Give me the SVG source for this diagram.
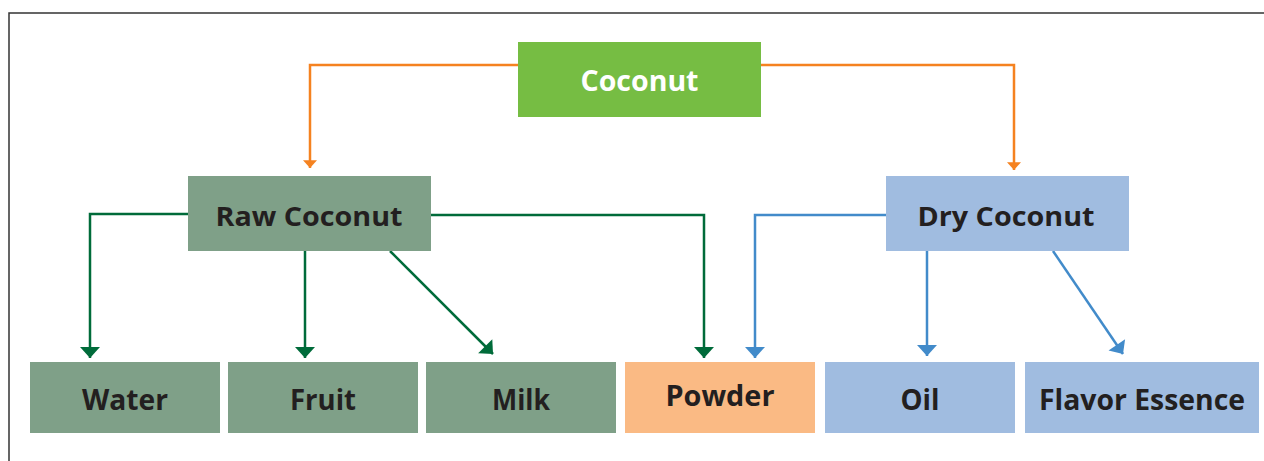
<svg xmlns="http://www.w3.org/2000/svg" width="1264" height="461" viewBox="0 0 1264 461">
  <style>
    .lbl { font-family: "Open Sans", "Liberation Sans", sans-serif; font-weight: 700; text-anchor: middle; fill: #231F20; }
    .top { fill: #FFFFFF; }
    .raw { fill: #7FA088; }
    .dry { fill: #A0BCE0; }
    .pow { fill: #FABA84; }
    .cg { fill: none; stroke-width: 2.5; }
    .orange { stroke: #F58220; }
    .green { stroke: #006B3A; }
    .blue { stroke: #428BCA; }
  </style>
  <defs>
    <marker id="arrO" markerUnits="userSpaceOnUse" markerWidth="22" markerHeight="14" refX="20" refY="10" orient="auto" viewBox="0 0 22 20">
      <path d="M9,0 L20,10 L9,20 Z" fill="#F58220"/>
    </marker>
    <marker id="arrG" markerUnits="userSpaceOnUse" markerWidth="22" markerHeight="22" refX="20" refY="10" orient="auto" viewBox="0 0 22 20">
      <path d="M9,0 L20,10 L9,20 Z" fill="#006B3A"/>
    </marker>
    <marker id="arrB" markerUnits="userSpaceOnUse" markerWidth="22" markerHeight="22" refX="20" refY="10" orient="auto" viewBox="0 0 22 20">
      <path d="M9,0 L20,10 L9,20 Z" fill="#428BCA"/>
    </marker>
  </defs>

  <!-- outer frame -->
  <path d="M9,461 V13 H1264" fill="none" stroke="#333333" stroke-width="1.5"/>

  <!-- connectors -->
  <g id="connectors">
    <path class="cg orange" d="M518,65 H310 V168" marker-end="url(#arrO)"/>
    <path class="cg orange" d="M761,65 H1014 V170" marker-end="url(#arrO)"/>

    <path class="cg green" d="M188,214 H90 V358" marker-end="url(#arrG)"/>
    <path class="cg green" d="M305,251 V358" marker-end="url(#arrG)"/>
    <path class="cg green" d="M390,251 L493,354" marker-end="url(#arrG)"/>
    <path class="cg green" d="M431,215 H704 V358" marker-end="url(#arrG)"/>

    <path class="cg blue" d="M886,215 H755 V358" marker-end="url(#arrB)"/>
    <path class="cg blue" d="M927,251 V356" marker-end="url(#arrB)"/>
    <path class="cg blue" d="M1053,251 L1123,354" marker-end="url(#arrB)"/>
  </g>

  <g id="coconut">
    <rect x="518" y="42" width="243" height="75" fill="#76BD43"/>
    <text class="lbl top" x="639.5" y="91" font-size="28" textLength="118" lengthAdjust="spacingAndGlyphs">Coconut</text>
  </g>
  <g id="raw-coconut">
    <rect class="raw" x="188" y="176" width="243" height="75"/>
    <text class="lbl" x="309" y="226" font-size="26" textLength="187" lengthAdjust="spacingAndGlyphs">Raw Coconut</text>
  </g>
  <g id="dry-coconut">
    <rect class="dry" x="886" y="176" width="243" height="75"/>
    <text class="lbl" x="1006" y="226" font-size="26" textLength="177" lengthAdjust="spacingAndGlyphs">Dry Coconut</text>
  </g>
  <g id="water">
    <rect class="raw" x="30" y="362" width="190" height="71"/>
    <text class="lbl" x="125" y="410" font-size="28" textLength="86" lengthAdjust="spacingAndGlyphs">Water</text>
  </g>
  <g id="fruit">
    <rect class="raw" x="228" y="362" width="190" height="71"/>
    <text class="lbl" x="323" y="410" font-size="28" textLength="66" lengthAdjust="spacingAndGlyphs">Fruit</text>
  </g>
  <g id="milk">
    <rect class="raw" x="426" y="362" width="190" height="71"/>
    <text class="lbl" x="521" y="410" font-size="28" textLength="58" lengthAdjust="spacingAndGlyphs">Milk</text>
  </g>
  <g id="powder">
    <rect class="pow" x="625" y="362" width="190" height="71"/>
    <text class="lbl" x="720" y="406" font-size="28" textLength="109" lengthAdjust="spacingAndGlyphs">Powder</text>
  </g>
  <g id="oil">
    <rect class="dry" x="825" y="362" width="190" height="71"/>
    <text class="lbl" x="920" y="410" font-size="28" textLength="39" lengthAdjust="spacingAndGlyphs">Oil</text>
  </g>
  <g id="flavor-essence">
    <rect class="dry" x="1025" y="362" width="234" height="71"/>
    <text class="lbl" x="1142" y="410" font-size="28" textLength="206" lengthAdjust="spacingAndGlyphs">Flavor Essence</text>
  </g>
</svg>
